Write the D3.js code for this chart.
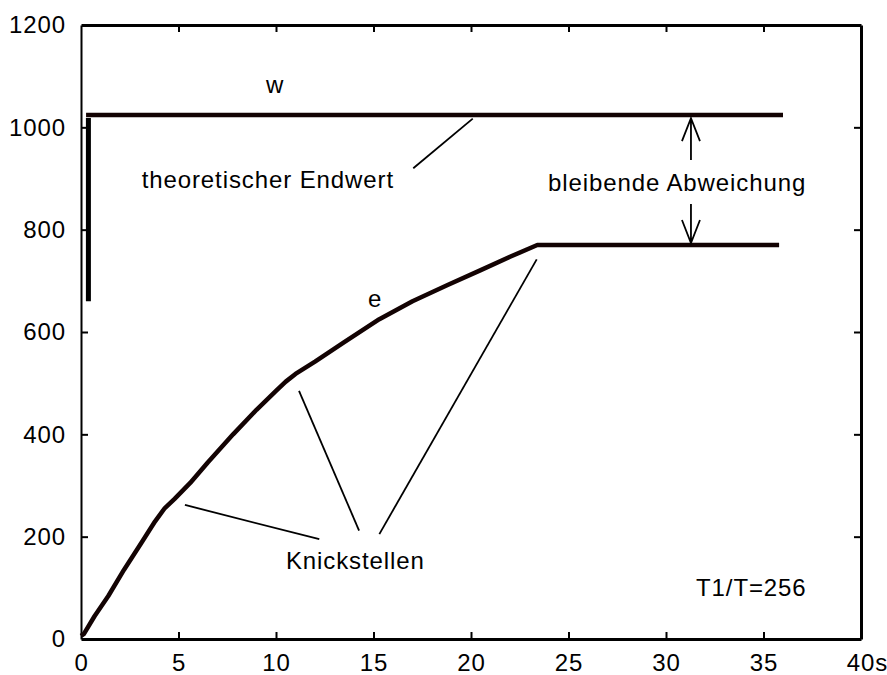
<!DOCTYPE html>
<html>
<head>
<meta charset="utf-8">
<script src="https://cdn.jsdelivr.net/npm/d3@7"></script>
<style>
  body { margin: 0; background: #fff; }
  text { font-family: "Liberation Sans", Arial, sans-serif; font-size: 24px; letter-spacing: 0.9px; fill: #000; }
</style>
</head>
<body>
<svg class="chart"></svg>
<script>
// Regelverlauf e(t) mit Knickstellen, Sollwert w
const eTime  = [0, 0.15, 0.7, 1.4, 2.2, 3.1, 3.8, 4.3, 4.8, 5.6, 6.5, 7.8, 9.0, 10.0, 10.5, 11.0, 12.0, 13.5, 15.3, 17.0, 18.8, 20.5, 22.0, 23.4, 35.8];
const eValue = [6, 10, 45, 84, 135, 188, 230, 256, 274, 305, 345, 400, 448, 485, 503, 518, 542, 580, 625, 660, 692, 721, 747, 770, 770];

const wTime  = [0.26, 36];
const wValue = [1024, 1024];

// senkrechter Balken am Anfang
const barTime = 0.38;
const barRange = [660, 1018];

const xTicks = [0, 5, 10, 15, 20, 25, 30, 35, 40];
const yTicks = [0, 200, 400, 600, 800, 1000, 1200];

// Hinweislinien (Datenkoordinaten)
const pointers = [
  {x1: 17.04, y1: 920, x2: 20.09, y2: 1017},
  {x1: 5.33, y1: 262, x2: 12.22, y2: 195},
  {x1: 11.18, y1: 485, x2: 14.26, y2: 212},
  {x1: 15.30, y1: 205, x2: 23.37, y2: 742}
];

const arrows = [
  {x: 31.28, from: 936, to: 1018},
  {x: 31.28, from: 850, to: 774}
];

const labels = [
  {text: 'w', x: 9.95, y: 1067, anchor: 'middle'},
  {text: 'theoretischer Endwert', x: 3.11, y: 881, anchor: 'start'},
  {text: 'bleibende Abweichung', x: 23.95, y: 875, anchor: 'start'},
  {text: 'e', x: 15.08, y: 649, anchor: 'middle'},
  {text: 'Knickstellen', x: 10.51, y: 137, anchor: 'start'},
  {text: 'T1/T=256', x: 31.54, y: 84, anchor: 'start'}
];

const width = 887, height = 675;
const margin = {left: 81, right: 861, top: 25, bottom: 639};
const lineColor = '#130303';

const svg = d3.select('.chart').attr('width', width).attr('height', height);

const x = d3.scaleLinear().domain([0, 40]).range([margin.left, margin.right]);
const y = d3.scaleLinear().domain([0, 1200]).range([margin.bottom, margin.top]);

// axes (ticks pointing inwards)
const xAxis = d3.axisBottom(x).tickValues(xTicks).tickSize(-7).tickSizeOuter(0).tickPadding(15)
  .tickFormat(d => d === 40 ? '40s' : String(d));
const gx = svg.append('g').attr('transform', 'translate(0,' + margin.bottom + ')').call(xAxis);
gx.selectAll('.tick text').filter(d => d === 40).attr('dx', 6);

const gy = svg.append('g').attr('transform', 'translate(' + margin.left + ',0)')
  .call(d3.axisLeft(y).tickValues(yTicks).tickSize(-7).tickSizeOuter(0).tickPadding(15).tickFormat(d3.format('d')));

const gt = svg.append('g').attr('transform', 'translate(0,' + margin.top + ')')
  .call(d3.axisTop(x).tickValues(xTicks.slice(1, -1)).tickSize(-7).tickSizeOuter(0).tickFormat(''));

const gr = svg.append('g').attr('transform', 'translate(' + margin.right + ',0)')
  .call(d3.axisRight(y).tickValues(yTicks.slice(1, -1)).tickSize(-7).tickSizeOuter(0).tickFormat(''));

[gx, gy, gt, gr].forEach(g => {
  g.attr('font-size', null).attr('font-family', null);
  g.selectAll('text').style('fill', '#000');
  g.selectAll('.tick line').attr('stroke', '#000').attr('stroke-width', 2);
});
gx.select('.domain').attr('stroke', '#000').attr('stroke-width', 3);
gt.select('.domain').attr('stroke', '#000').attr('stroke-width', 3);
gr.select('.domain').attr('stroke', '#000').attr('stroke-width', 3);
gy.select('.domain').attr('stroke', '#000').attr('stroke-width', 2);
gx.selectAll('.tick').filter(d => d === 0 || d === 40).select('line').remove();
gy.selectAll('.tick').filter(d => d === 0 || d === 1200).select('line').remove();

const line = d3.line().x(d => x(d[0])).y(d => y(d[1]));

// w
svg.append('path')
  .attr('d', line(d3.zip(wTime, wValue)))
  .attr('fill', 'none').attr('stroke', lineColor).attr('stroke-width', 4.5);

// bar
svg.append('line')
  .attr('x1', x(barTime)).attr('x2', x(barTime))
  .attr('y1', y(barRange[0])).attr('y2', y(barRange[1]))
  .attr('stroke', '#000').attr('stroke-width', 5);

// e
svg.append('path')
  .attr('d', line(d3.zip(eTime, eValue)))
  .attr('fill', 'none').attr('stroke', lineColor).attr('stroke-width', 4.5)
  .attr('stroke-linejoin', 'round');

// pointer lines
svg.selectAll('.pointer').data(pointers).join('line')
  .attr('class', 'pointer')
  .attr('x1', d => x(d.x1)).attr('y1', d => y(d.y1))
  .attr('x2', d => x(d.x2)).attr('y2', d => y(d.y2))
  .attr('stroke', '#000').attr('stroke-width', 1.8);

// arrows (open heads)
arrows.forEach(a => {
  const px = x(a.x), p0 = y(a.from), p1 = y(a.to);
  const dir = p1 < p0 ? 1 : -1;
  svg.append('path')
    .attr('d', 'M' + px + ',' + p0 + 'L' + px + ',' + p1 +
      'M' + (px - 9) + ',' + (p1 + dir * 23) + 'L' + px + ',' + p1 + 'L' + (px + 9) + ',' + (p1 + dir * 23))
    .attr('fill', 'none').attr('stroke', '#000').attr('stroke-width', 1.8);
});

svg.selectAll('.label').data(labels).join('text')
  .attr('class', 'label')
  .attr('x', d => x(d.x)).attr('y', d => y(d.y))
  .attr('text-anchor', d => d.anchor)
  .text(d => d.text);
</script>
</body>
</html>
